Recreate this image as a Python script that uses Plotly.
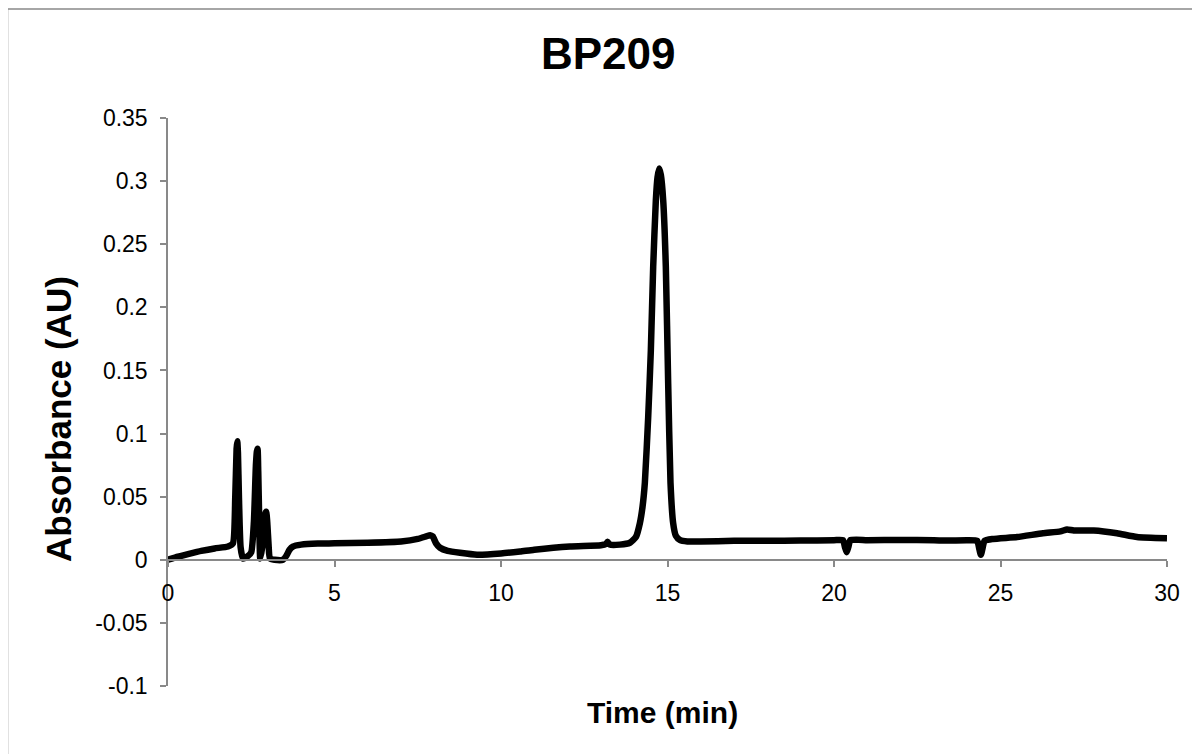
import plotly.graph_objects as go

# Chromatogram
time_min = [0, 0.3, 0.6, 1.0, 1.4, 1.8, 1.95, 2.02, 2.06, 2.08, 2.1, 2.13, 2.18, 2.25,
            2.4, 2.5, 2.58, 2.64, 2.67, 2.69, 2.71, 2.74, 2.77, 2.83, 2.9, 2.93, 2.95,
            2.98, 3.02, 3.06, 3.2, 3.45, 3.55, 3.65, 3.75, 4.0, 4.5, 5, 6, 7, 7.5, 7.75,
            7.87, 7.95, 8.05, 8.17, 8.4, 8.77, 9.28, 10, 10.57, 11, 12.07, 13.0, 13.15,
            13.2, 13.27, 13.57, 13.87, 14.05, 14.17, 14.25, 14.32, 14.42, 14.5, 14.57,
            14.65, 14.7, 14.75, 14.8, 14.87, 14.95, 15.02, 15.09, 15.17, 15.25, 15.38,
            15.6, 16, 17, 18, 19, 20, 20.27, 20.33, 20.38, 20.43, 20.49, 21, 22, 23, 23.38,
            24, 24.3, 24.36, 24.41, 24.46, 24.52, 24.77, 25.5, 26.27, 26.8, 27.0, 27.2,
            27.8, 28.5, 29.1, 30]
absorbance = [0, 0.0025, 0.0045, 0.007, 0.009, 0.0105, 0.013, 0.05, 0.088, 0.094, 0.085,
              0.05, 0.01, 0.001, 0.003, 0.006, 0.03, 0.075, 0.086, 0.088, 0.07, 0.03,
              0.001, 0.01, 0.03, 0.037, 0.038, 0.03, 0.012, 0.001, 0.0, 0.0, 0.003, 0.008,
              0.0105, 0.012, 0.0128, 0.013, 0.0135, 0.0145, 0.0165, 0.0185, 0.0195,
              0.0185, 0.013, 0.0095, 0.007, 0.0055, 0.004, 0.005, 0.0066, 0.008, 0.0105,
              0.0115, 0.0125, 0.0142, 0.012, 0.012, 0.0135, 0.018, 0.029, 0.042, 0.061,
              0.113, 0.166, 0.232, 0.285, 0.303, 0.31, 0.305, 0.285, 0.232, 0.14, 0.061,
              0.029, 0.019, 0.0155, 0.0145, 0.0145, 0.015, 0.015, 0.0152, 0.0155, 0.0155,
              0.01, 0.006, 0.01, 0.0155, 0.0155, 0.0157, 0.0155, 0.0152, 0.0155, 0.015,
              0.009, 0.004, 0.009, 0.015, 0.0165, 0.018, 0.021, 0.0225, 0.024, 0.0232,
              0.0232, 0.021, 0.018, 0.017]

x_ticks = [0, 5, 10, 15, 20, 25, 30]
x_tick_text = ["0", "5", "10", "15", "20", "25", "30"]
y_ticks = [-0.1, -0.05, 0, 0.05, 0.1, 0.15, 0.2, 0.25, 0.3, 0.35]
y_tick_text = ["-0.1", "-0.05", "0", "0.05", "0.1", "0.15", "0.2", "0.25", "0.3", "0.35"]

title_text = "BP209"
x_title = "Time (min)"
y_title = "Absorbance (AU)"

OFF = 8  # page body margin
W, H = 1200 - OFF, 754 - OFF
L, R, T, B = 168 - OFF, 33, 118 - OFF, 68
pw, ph = W - L - R, H - T - B


def px_x(px):
    return (px - OFF - L) / pw


def px_y(py):
    return (H - B - (py - OFF)) / ph


axis_col = "#898989"
font_fam = "Liberation Sans, Arial, sans-serif"
y_min, y_max = -0.1, 0.35

fig = go.Figure()
fig.add_trace(go.Scatter(x=time_min, y=absorbance, mode="lines",
                         line=dict(color="black", width=6.5, shape="spline",
                                   smoothing=0.5),
                         showlegend=False, hoverinfo="skip"))

fig.update_layout(
    width=W, height=H,
    margin=dict(l=L, r=R, t=T, b=B),
    paper_bgcolor="white", plot_bgcolor="white",
    font=dict(family=font_fam, color="black"),
    xaxis=dict(range=[0, 30], tickvals=x_ticks, ticktext=x_tick_text,
               showgrid=False, zeroline=False, showline=True, linecolor=axis_col,
               linewidth=1.5, ticks="outside", ticklen=6, tickcolor=axis_col,
               tickwidth=1.5, tickfont=dict(size=23, family=font_fam),
               anchor="free", position=(0 - y_min) / (y_max - y_min),
               ticklabelstandoff=7),
    yaxis=dict(range=[y_min, y_max], tickvals=y_ticks, ticktext=y_tick_text,
               showgrid=False, zeroline=False, showline=True, linecolor=axis_col,
               linewidth=1.5, ticks="outside", ticklen=6, tickcolor=axis_col,
               tickwidth=1.5, tickfont=dict(size=23, family=font_fam),
               ticklabelstandoff=8, domain=[0, 1]),
)

fig.add_annotation(text="<b>" + title_text + "</b>", xref="paper", yref="paper",
                   x=px_x(608), y=px_y(54), showarrow=False,
                   font=dict(size=44, family=font_fam, color="black"),
                   xanchor="center", yanchor="middle")
fig.add_annotation(text="<b>" + x_title + "</b>", xref="paper", yref="paper",
                   x=px_x(662), y=px_y(712), showarrow=False,
                   font=dict(size=30, family=font_fam, color="black"),
                   xanchor="center", yanchor="middle")
fig.add_annotation(text="<b>" + y_title + "</b>", xref="paper", yref="paper",
                   x=px_x(58), y=px_y(419), showarrow=False, textangle=-90,
                   font=dict(size=35, family=font_fam, color="black"),
                   xanchor="center", yanchor="middle")

# outer chart border (left and top edges visible)
fig.add_shape(type="line", xref="paper", yref="paper", x0=px_x(7.5), x1=px_x(7.5),
              y0=px_y(9), y1=px_y(760), line=dict(color=axis_col, width=1.5))
fig.add_shape(type="line", xref="paper", yref="paper", x0=px_x(7), x1=px_x(1205),
              y0=px_y(9), y1=px_y(9), line=dict(color=axis_col, width=1.5))

fig.write_html("out.html")
